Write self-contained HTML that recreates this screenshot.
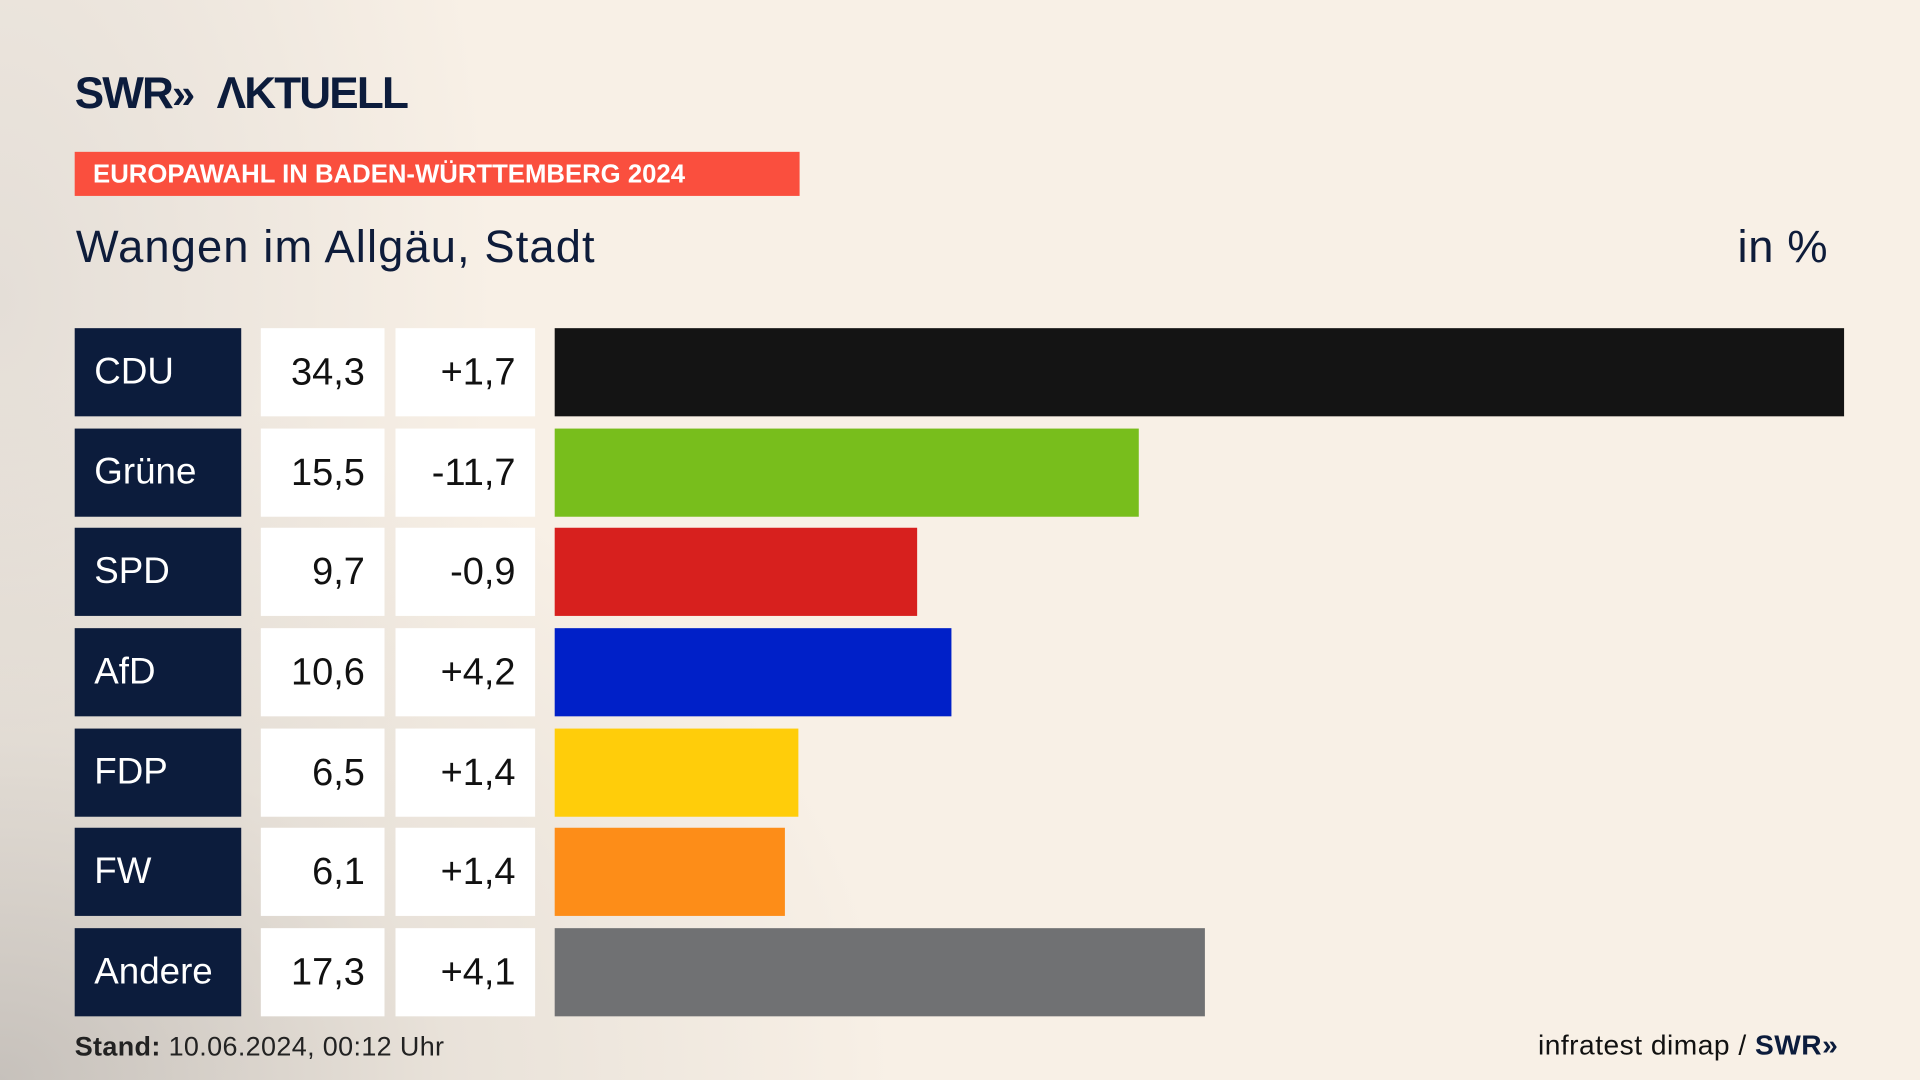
<!DOCTYPE html>
<html><head><meta charset="utf-8"><style>
html,body{margin:0;width:1920px;height:1080px;overflow:hidden;}
body{background:#f7efe5;}
#bg{position:absolute;left:0;top:0;width:1920px;height:1080px;
background:radial-gradient(ellipse 900px 700px at 0px 1080px, rgba(190,185,180,0.85), rgba(210,205,198,0.4) 50%, rgba(247,239,229,0) 100%),
radial-gradient(ellipse 500px 900px at 0px 300px, rgba(215,210,205,0.6), rgba(247,239,229,0) 100%),
linear-gradient(#f8f0e6,#f8f0e6);}
#c{position:absolute;left:0;top:0;width:1568px;height:882px;transform:scale(1.22449);transform-origin:0 0;font-family:"Liberation Sans",sans-serif;color:#0e1c3a;}
.a{position:absolute;}
.n{background:#0c1c3c;color:#fff;font-size:30px;line-height:72px;padding-left:16px;box-sizing:border-box;width:136px;height:72px;left:61px;}
.v{background:#fff;font-size:31px;line-height:72px;text-align:right;box-sizing:border-box;height:72px;color:#111;}
.b{left:453px;height:72px;}
</style></head><body><div id="bg"></div>
<div id="c">
<div class="a" style="left:61px;top:55px;font-size:36px;font-weight:bold;letter-spacing:-1.5px;color:#0c1c3c;">SWR<span style="font-size:34px;letter-spacing:-8px">»</span>&nbsp;&nbsp; ΛKTUELL</div>
<div class="a" style="left:61px;top:124px;width:592px;height:36px;background:#fa4f3e;color:#fff;font-weight:bold;font-size:21px;line-height:37px;padding-left:15px;box-sizing:border-box;">EUROPAWAHL IN BADEN-WÜRTTEMBERG 2024</div>
<div class="a" style="left:62px;top:181px;font-size:37px;letter-spacing:0.9px;">Wangen im Allgäu, Stadt</div>
<div class="a" style="left:1419px;top:181px;font-size:37px;letter-spacing:0.5px;">in %</div>

<div class="a n" style="top:268px">CDU</div><div class="a v" style="top:268px;left:213px;width:101px;padding-right:16px">34,3</div><div class="a v" style="top:268px;left:323px;width:114px;padding-right:16px">+1,7</div><div class="a b" style="top:268px;width:1053px;background:#141414"></div>
<div class="a n" style="top:350px">Grüne</div><div class="a v" style="top:350px;left:213px;width:101px;padding-right:16px">15,5</div><div class="a v" style="top:350px;left:323px;width:114px;padding-right:16px">-11,7</div><div class="a b" style="top:350px;width:477px;background:#78be1c"></div>
<div class="a n" style="top:431px">SPD</div><div class="a v" style="top:431px;left:213px;width:101px;padding-right:16px">9,7</div><div class="a v" style="top:431px;left:323px;width:114px;padding-right:16px">-0,9</div><div class="a b" style="top:431px;width:296px;background:#d7201e"></div>
<div class="a n" style="top:513px">AfD</div><div class="a v" style="top:513px;left:213px;width:101px;padding-right:16px">10,6</div><div class="a v" style="top:513px;left:323px;width:114px;padding-right:16px">+4,2</div><div class="a b" style="top:513px;width:324px;background:#0020c8"></div>
<div class="a n" style="top:595px">FDP</div><div class="a v" style="top:595px;left:213px;width:101px;padding-right:16px">6,5</div><div class="a v" style="top:595px;left:323px;width:114px;padding-right:16px">+1,4</div><div class="a b" style="top:595px;width:199px;background:#ffcd0a"></div>
<div class="a n" style="top:676px">FW</div><div class="a v" style="top:676px;left:213px;width:101px;padding-right:16px">6,1</div><div class="a v" style="top:676px;left:323px;width:114px;padding-right:16px">+1,4</div><div class="a b" style="top:676px;width:188px;background:#fd8d18"></div>
<div class="a n" style="top:758px">Andere</div><div class="a v" style="top:758px;left:213px;width:101px;padding-right:16px">17,3</div><div class="a v" style="top:758px;left:323px;width:114px;padding-right:16px">+4,1</div><div class="a b" style="top:758px;width:531px;background:#707173"></div>

<div class="a" style="left:61px;top:842px;font-size:22px;color:#222;letter-spacing:0.3px;"><b>Stand:</b> 10.06.2024, 00:12 Uhr</div>
<div class="a" style="left:1256px;top:840px;font-size:23px;color:#111;letter-spacing:0.4px;">infratest dimap / <b style="color:#0c1c3c">SWR<span style="letter-spacing:-4px">»</span></b></div>
</div></body></html>
